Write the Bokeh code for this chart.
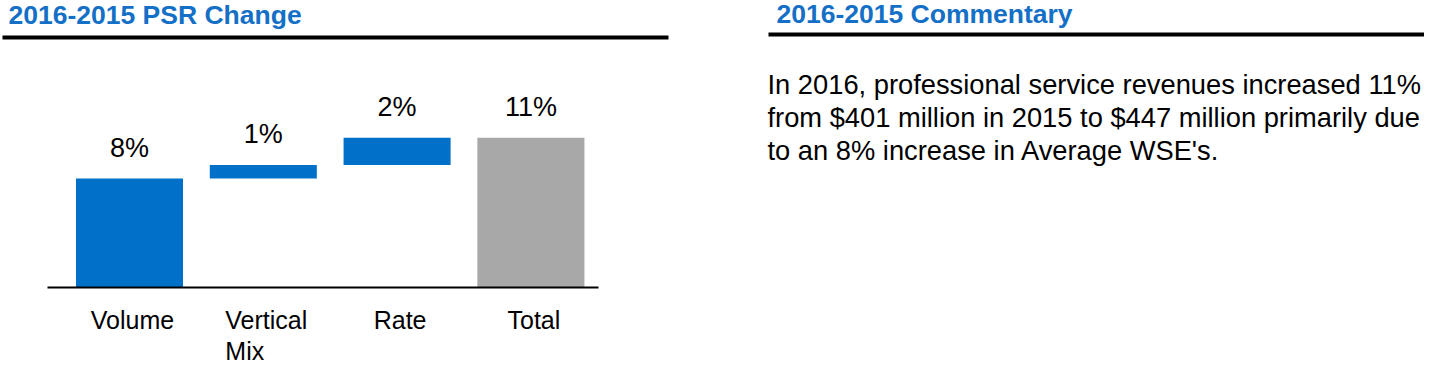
from bokeh.plotting import figure
from bokeh.models import Range1d, ColumnDataSource
from bokeh.core.properties import value
from bokeh.embed import file_html
from bokeh.resources import INLINE

# ---------------- data ----------------
categories = ["Volume", "Vertical\nMix", "Rate", "Total"]
changes = [8, 1, 2, 11]
is_total = [False, False, False, True]
value_labels = ["8%", "1%", "2%", "11%"]

chart_title = "2016-2015 PSR Change"
commentary_title = "2016-2015 Commentary"
commentary_lines = [
    "In 2016, professional service revenues increased 11%",
    "from $401 million in 2015 to $447 million primarily due",
    "to an 8% increase in Average WSE's.",
]

# ---------------- layout (pixels) ----------------
W, H = 1424, 366
PPX = 133.8          # pixels per category step
PPY = 13.625         # pixels per percentage point
X0_PX = 129.0        # pixel x of first category centre
BASE_PX = 287.0      # pixel y of the 0% baseline

XS = -X0_PX / PPX
XE = XS + W / PPX
YE = BASE_PX / PPY
YS = YE - H / PPY


def px_x(lx):
    return XS + lx / PPX


def px_y(ly):
    return YE - ly / PPY


BLUE = "#0070C8"
TITLE_BLUE = "#1470C6"
GREY = "#A8A8A8"
FONT = "Liberation Sans"

# category label styling (multi-line labels are left-aligned like the original)
cat_align = ["left" if "\n" in c else "center" for c in categories]
cat_xoff = [-38 if "\n" in c else 3 for c in categories]

# ---------------- waterfall geometry ----------------
idx = list(range(len(categories)))
bottoms, tops, colors = [], [], []
running = 0
for v, t in zip(changes, is_total):
    if t:
        bottoms.append(0)
        tops.append(v)
        colors.append(GREY)
    else:
        bottoms.append(running)
        tops.append(running + v)
        colors.append(BLUE)
        running += v

src = ColumnDataSource(dict(x=idx, bottom=bottoms, top=tops, color=colors,
                            label=value_labels, cat=categories,
                            align=cat_align, xoff=cat_xoff))

p = figure(width=W, height=H, x_range=Range1d(XS, XE), y_range=Range1d(YS, YE),
           output_backend="svg", toolbar_location=None, min_border=0)
p.axis.visible = False
p.grid.visible = False
p.outline_line_color = None
p.background_fill_color = "white"
p.border_fill_color = "white"

# bars
p.vbar(x="x", bottom="bottom", top="top", width=0.8, fill_color="color",
       line_color=None, source=src)

# baseline
p.segment(x0=[px_x(47)], y0=[0], x1=[px_x(598)], y1=[0],
          line_color="black", line_width=2)

# value labels
p.text(x="x", y="top", text="label", source=src, text_align="center",
       text_baseline="top", y_offset=-46,
       text_font=value(FONT), text_font_size="27px", text_color="black")

# category labels
p.text(x="x", y=0, text="cat", source=src, text_align="align",
       text_baseline="top", x_offset="xoff", y_offset=18, text_line_height=1.12,
       text_font=value(FONT), text_font_size="25px", text_color="black")

# titles
p.text(x=[px_x(8), px_x(776)], y=[px_y(-1), px_y(-2)],
       text=[chart_title, commentary_title], text_align="left",
       text_baseline="top", text_font=value(FONT),
       text_font_size="26.5px", text_font_style="bold", text_color=TITLE_BLUE)

# rules under titles
p.quad(left=[px_x(2), px_x(768)], right=[px_x(668), px_x(1424)],
       top=[px_y(35), px_y(32)], bottom=[px_y(39), px_y(36)],
       fill_color="black", line_color=None)

# commentary
p.text(x=[px_x(767)] * len(commentary_lines),
       y=[px_y(68 + 33 * i) for i in range(len(commentary_lines))],
       text=commentary_lines, text_align="left", text_baseline="top",
       text_font=value(FONT), text_font_size="27.3px", text_color="black")

open("out.html", "w").write(file_html(p, INLINE))
